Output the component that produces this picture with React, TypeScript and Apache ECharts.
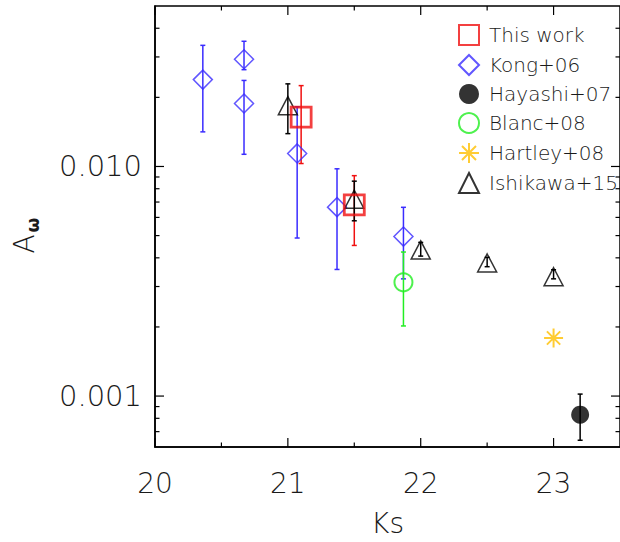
import React, { useEffect, useRef } from 'react';
import * as echarts from 'echarts';

// ---- data ----
const xMajorTicks = [20, 21, 22, 23];
const xMinorTicks = [20.5, 21.5, 22.5];
const yMajorTicks = [0.001, 0.01];
const yTickLabels = ['0.001', '0.010'];
const yMinorTicks = [0.0007, 0.0008, 0.0009, 0.002, 0.003, 0.004, 0.005, 0.006, 0.007, 0.008, 0.009, 0.02, 0.03, 0.04];

// [Ks, A_omega, lower, upper]
const thisWork = [
  [21.1, 0.0164, 0.0103, 0.0225],
  [21.5, 0.0068, 0.00453, 0.00912],
];
const kong06 = [
  [20.36, 0.0239, 0.01415, 0.0337],
  [20.67, 0.0293, 0.0264, 0.0351],
  [20.67, 0.0188, 0.0113, 0.0237],
  [21.07, 0.0114, 0.00488, 0.0182],
  [21.37, 0.00665, 0.00356, 0.00977],
  [21.87, 0.00495, 0.00324, 0.00664],
];
const hayashi07 = [[23.2, 0.00083, 0.000642, 0.00102]];
const blanc08 = [[21.87, 0.00313, 0.00202, 0.00424]];
const hartley08 = [[23.0, 0.00179]];
const ishikawa15 = [
  [21.0, 0.0184, 0.0139, 0.0229],
  [21.5, 0.0072, 0.0058, 0.00863],
  [22.0, 0.00433, 0.00407, 0.00467],
  [22.5, 0.0038, 0.00366, 0.00402],
  [23.0, 0.00331, 0.00324, 0.00355],
];

const FONT = 'DejaVu Sans';
const FW = 200;
const TXT = '#1a1a1a';

const RED = '#f01010';
const BLUE = '#3a2cff';
const GREEN = '#22ee22';
const GOLD = '#ffbf00';
const BLACK = '#000000';

const STAR = 'path://M10,0L10,20M0,10L20,10M3,3L17,17M17,3L3,17';

function errSeries(name: string, data: number[][], color: string, lw: number) {
  return {
    type: 'custom',
    name,
    z: 2,
    data: data.map((d) => [d[0], d[2], d[3]]),
    encode: { x: 0, y: [1, 2] },
    renderItem: (params: any, api: any) => {
      const x = api.value(0);
      const p1 = api.coord([x, api.value(1)]);
      const p2 = api.coord([x, api.value(2)]);
      const c = 2.5;
      const st = { stroke: color, lineWidth: lw };
      return {
        type: 'group',
        children: [
          { type: 'line', shape: { x1: p1[0], y1: p1[1], x2: p2[0], y2: p2[1] }, style: st },
          { type: 'line', shape: { x1: p1[0] - c, y1: p1[1], x2: p1[0] + c, y2: p1[1] }, style: st },
          { type: 'line', shape: { x1: p2[0] - c, y1: p2[1], x2: p2[0] + c, y2: p2[1] }, style: st },
        ],
      };
    },
  };
}

function tickSeries(name: string, values: number[], isX: boolean, len: number) {
  return {
    type: 'custom',
    name,
    z: 5,
    silent: true,
    data: values.map((v) => (isX ? [v, 0.001] : [20, v])),
    encode: { x: 0, y: 1 },
    renderItem: (params: any, api: any) => {
      const cs = params.coordSys;
      const p = api.coord([api.value(0), api.value(1)]);
      const st = { stroke: '#000', lineWidth: 1.2 };
      if (isX) {
        return {
          type: 'group',
          children: [
            { type: 'line', shape: { x1: p[0], y1: cs.y + cs.height, x2: p[0], y2: cs.y + cs.height - len }, style: st },
            { type: 'line', shape: { x1: p[0], y1: cs.y, x2: p[0], y2: cs.y + len }, style: st },
          ],
        };
      }
      return {
        type: 'group',
        children: [
          { type: 'line', shape: { x1: cs.x, y1: p[1], x2: cs.x + len, y2: p[1] }, style: st },
          { type: 'line', shape: { x1: cs.x + cs.width, y1: p[1], x2: cs.x + cs.width - len, y2: p[1] }, style: st },
        ],
      };
    },
  };
}

export default function App() {
  const ref = useRef<HTMLDivElement>(null);
  useEffect(() => {
    if (!ref.current) return;
    const chart = echarts.init(ref.current, undefined, { renderer: 'svg' });
    const hollow = 'rgba(255,255,255,0)';
    chart.setOption({
      animation: false,
      backgroundColor: '#ffffff',
      grid: { left: 155, top: 6, width: 467.8, height: 449, show: true, borderColor: '#000', borderWidth: 1.5, backgroundColor: 'transparent' },
      legend: {
        orient: 'vertical',
        left: 458,
        top: 24,
        padding: 0,
        itemWidth: 20,
        itemHeight: 20,
        itemGap: 8,
        selectedMode: false,
        textStyle: { fontFamily: FONT, fontWeight: FW, fontSize: 20, color: TXT, padding: [0, 0, 0, 5] },
        data: ['This work', 'Kong+06', 'Hayashi+07', 'Blanc+08', 'Hartley+08', 'Ishikawa+15'],
      },
      xAxis: {
        type: 'value',
        min: 20,
        max: 23.5,
        interval: 1,
        axisLine: { show: true, lineStyle: { color: '#000', width: 1.5 } },
        axisTick: { show: false },
        splitLine: { show: false },
        axisLabel: {
          showMaxLabel: false,
          margin: 22,
          fontFamily: FONT,
          fontWeight: FW,
          fontSize: 28,
          color: TXT,
          formatter: (v: number) => (xMajorTicks.indexOf(v) >= 0 ? String(v) : ''),
        },
        name: 'Ks',
        nameLocation: 'middle',
        nameGap: 62,
        nameTextStyle: { fontFamily: FONT, fontWeight: FW, fontSize: 28, color: TXT },
      },
      yAxis: {
        type: 'log',
        logBase: 10,
        min: 0.0006,
        max: 0.05,
        axisLine: { show: true, lineStyle: { color: '#000', width: 1.5 } },
        axisTick: { show: false },
        splitLine: { show: false },
        axisLabel: {
          showMinLabel: false,
          showMaxLabel: false,
          margin: 13,
          fontFamily: FONT,
          fontWeight: FW,
          fontSize: 29,
          color: TXT,
          formatter: (v: number) => {
            for (let i = 0; i < yMajorTicks.length; i++) {
              if (Math.abs(v - yMajorTicks[i]) / yMajorTicks[i] < 1e-6) return yTickLabels[i];
            }
            return '';
          },
        },
      },
      graphic: [
        {
          type: 'group',
          x: 24,
          y: 236,
          rotation: Math.PI / 2,
          children: [
            { type: 'text', x: -8, y: 0, style: { text: 'A', font: `${FW} 28px "${FONT}"`, fill: TXT, align: 'center', verticalAlign: 'middle' } },
            { type: 'text', x: 11, y: 9, style: { text: 'ω', font: `bold 17px "${FONT}"`, fill: TXT, align: 'center', verticalAlign: 'middle' } },
          ],
        },
      ],
      series: [
        tickSeries('xMajor', xMajorTicks, true, 9),
        tickSeries('xMinor', xMinorTicks, true, 4.5),
        tickSeries('yMajor', yMajorTicks, false, 9),
        tickSeries('yMinor', yMinorTicks, false, 4.5),
        errSeries('err kong', kong06, BLUE, 1.5),
        errSeries('err blanc', blanc08, GREEN, 1.5),
        errSeries('err this', thisWork, RED, 1.5),
        errSeries('err ishi', ishikawa15, BLACK, 1.5),
        errSeries('err haya', hayashi07, BLACK, 1.5),
        {
          type: 'scatter', name: 'Kong+06', z: 3, symbol: 'diamond', symbolSize: 19,
          data: kong06.map((d) => [d[0], d[1]]),
          itemStyle: { color: hollow, borderColor: BLUE, borderWidth: 1.5 },
        },
        {
          type: 'scatter', name: 'Ishikawa+15', z: 3, symbol: 'triangle', symbolSize: [19, 18],
          data: ishikawa15.map((d) => [d[0], d[1]]),
          itemStyle: { color: hollow, borderColor: BLACK, borderWidth: 1.5 },
        },
        {
          type: 'scatter', name: 'This work', z: 4, symbol: 'rect', symbolSize: 20,
          data: thisWork.map((d) => [d[0], d[1]]),
          itemStyle: { color: hollow, borderColor: RED, borderWidth: 2.8 },
        },
        {
          type: 'scatter', name: 'Hayashi+07', z: 3, symbol: 'circle', symbolSize: 18,
          data: hayashi07.map((d) => [d[0], d[1]]),
          itemStyle: { color: BLACK, borderColor: BLACK, borderWidth: 0 },
        },
        {
          type: 'scatter', name: 'Blanc+08', z: 3, symbol: 'circle', symbolSize: 18,
          data: blanc08.map((d) => [d[0], d[1]]),
          itemStyle: { color: hollow, borderColor: GREEN, borderWidth: 2 },
        },
        {
          type: 'scatter', name: 'Hartley+08', z: 3, symbol: STAR, symbolSize: 19,
          data: hartley08.map((d) => [d[0], d[1]]),
          itemStyle: { color: hollow, borderColor: GOLD, borderWidth: 2 },
        },
      ],
    });
    return () => chart.dispose();
  }, []);
  return <div ref={ref} style={{ position: 'absolute', left: 0, top: 0, width: 620, height: 542 }} />;
}
